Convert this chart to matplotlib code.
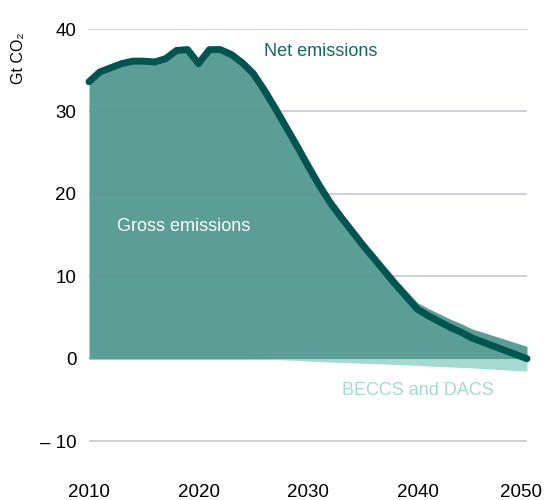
import numpy as np
import matplotlib
matplotlib.use("Agg")
import matplotlib.pyplot as plt
import matplotlib.transforms as mtransforms

plt.rcParams['font.family'] = ['Liberation Sans', 'DejaVu Sans']

# data (Gt CO2)
years = np.arange(2010, 2051)
net_emissions = [33.6, 34.8, 35.3, 35.8, 36.1, 36.1, 36.0, 36.4, 37.4, 37.5,
                 35.8, 37.5, 37.5, 36.9, 35.9, 34.6, 32.6, 30.4, 28.1, 25.8,
                 23.4, 21.1, 19.0, 17.2, 15.5, 13.8, 12.2, 10.6, 9.0, 7.5,
                 6.0, 5.2, 4.5, 3.8, 3.2, 2.5, 2.0, 1.5, 1.0, 0.5, 0.0]
removals = [0, 0, 0, 0, 0, 0, 0, 0, 0, 0,
            0, 0, 0, 0, 0, 0.02, 0.05, 0.1, 0.15, 0.2,
            0.28, 0.34, 0.4, 0.45, 0.5, 0.55, 0.6, 0.65, 0.7, 0.75,
            0.8, 0.88, 0.95, 1.0, 1.05, 1.1, 1.2, 1.27, 1.35, 1.42, 1.5]

net = np.array(net_emissions)
beccs = -np.array(removals)
gross = net - beccs

gross_col = '#5a9e96'
net_col = '#005550'
beccs_col = '#a6d9d0'
grid_col = '#c3c9d2'

fig = plt.figure(figsize=(5.46, 5.0), dpi=100)
ax = fig.add_axes([89 / 546, 30 / 500, 438 / 546, 441 / 500])

ax.set_xlim(2010, 2050)
ax.set_ylim(-13.5, 40)

for v in [40, 30, 20, 10, 0, -10]:
    ax.axhline(v, color=grid_col, lw=1.2, zorder=1)

poly = ax.fill_between(years, 0, gross, color=gross_col, lw=0, zorder=2)
ax.fill_between(years, beccs, 0, color=beccs_col, lw=0, zorder=2)
# faint gridlines showing through the gross area
for v in [30, 20, 10]:
    gl = ax.axhline(v, color='#7a8a99', lw=1.0, alpha=0.3, zorder=3)
    gl.set_clip_path(poly.get_paths()[0], poly.get_transform())
ax.plot(years, net, color=net_col, lw=5, solid_capstyle='round',
        solid_joinstyle='round', zorder=4, clip_on=False)

ax.text(2026.0, 37.3, 'Net emissions', color='#1a6660', fontsize=13,
        ha='left', va='center')
ax.text(2012.6, 16.0, 'Gross emissions', color='white', fontsize=13,
        ha='left', va='center')
ax.text(2040.0, -3.8, 'BECCS and DACS', color=beccs_col, fontsize=13,
        ha='center', va='center')

ax.set_yticks([40, 30, 20, 10, 0, -10])
ax.set_yticklabels(['40', '30', '20', '10', '0', '\u2013 10'])
ax.set_xticks([2010, 2020, 2030, 2040, 2050])
ax.tick_params(axis='both', length=0, labelsize=13.5, colors='black')
ax.tick_params(axis='y', pad=9)
ax.tick_params(axis='x', pad=10)
for s in ax.spines.values():
    s.set_visible(False)

# nudge the last year label so it stays inside the picture
last = ax.get_xticklabels()[-1]
last.set_transform(last.get_transform() +
                   mtransforms.ScaledTranslation(-6 / 100, 0, fig.dpi_scale_trans))

fig.text(0.033, 0.935, 'Gt CO\u2082', rotation=90, fontsize=11.5,
         ha='center', va='top')

fig.savefig('out.png', dpi=100)
